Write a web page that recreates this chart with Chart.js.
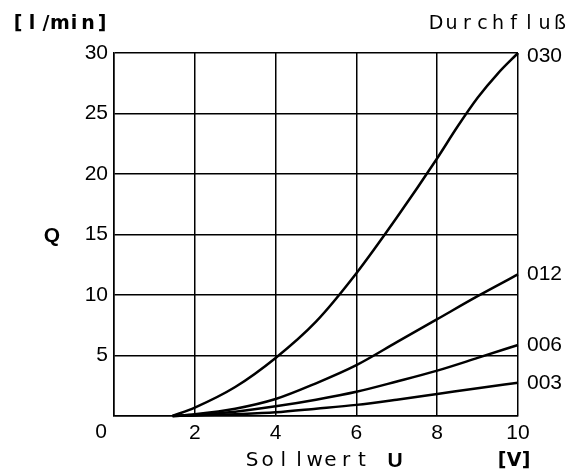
<!DOCTYPE html>
<html>
<head>
<meta charset="utf-8">
<script src="https://cdn.jsdelivr.net/npm/chart.js@4"></script>
<style>
  body { margin: 0; background: #fff; }
  #chart { display: block; }
</style>
</head>
<body>
<canvas id="chart" width="581" height="472"></canvas>
<script>
// Sollwert U [V] -> Durchfluss Q [l/min]
var seriesNames = ['030', '012', '006', '003'];
var u030 = [1.45, 2, 3, 4, 5, 6, 7, 8, 8.5, 9, 9.5, 10];
var q030 = [0, 0.7, 2.4, 4.8, 7.8, 11.8, 16.4, 21.3, 23.9, 26.3, 28.3, 30];
var uVals = [1.45, 2, 3, 4, 5, 6, 7, 8, 9, 10];
var q012 = [0, 0.15, 0.6, 1.4, 2.7, 4.2, 6.1, 8.0, 9.9, 11.7];
var q006 = [0, 0.08, 0.35, 0.8, 1.35, 2.0, 2.85, 3.75, 4.8, 5.87];
var q003 = [0, 0.05, 0.15, 0.3, 0.6, 0.92, 1.35, 1.82, 2.3, 2.75];
var xTicks = [0, 2, 4, 6, 8, 10];
var yTicks = [0, 5, 10, 15, 20, 25, 30];

function pts(u, q) {
  return u.map(function (v, i) { return { x: v, y: q[i] }; });
}

function line(label, u, q) {
  return {
    label: label,
    data: pts(u, q),
    showLine: true,
    borderColor: '#000',
    borderWidth: 2.5,
    pointRadius: 0,
    cubicInterpolationMode: 'monotone',
    clip: false
  };
}

function spaced(ctx, text, x, y, pitch) {
  for (var i = 0; i < text.length; i++) {
    ctx.fillText(text[i], x + i * pitch, y);
  }
}

var labelsPlugin = {
  id: 'labels',
  afterDraw: function (chart) {
    var ctx = chart.ctx;
    ctx.save();
    ctx.fillStyle = '#000';
    ctx.textBaseline = 'middle';

    // curve names at the end of each line
    ctx.font = '21px "Liberation Sans"';
    ctx.textAlign = 'left';
    chart.data.datasets.forEach(function (ds, i) {
      var meta = chart.getDatasetMeta(i);
      var last = meta.data[meta.data.length - 1];
      var dy = i === 0 ? 3 : 0;
      ctx.fillText(ds.label, last.x + 9, last.y + dy);
    });

    // shared origin
    ctx.textAlign = 'center';
    ctx.fillText('0', 101, 432);

    // Q
    ctx.font = 'bold 21px "Liberation Sans"';
    ctx.fillText('Q', 52, 236);

    // plotter style texts
    ctx.font = '600 19px "DejaVu Sans"';
    spaced(ctx, '[l/min]', 18, 24, 14);
    ctx.font = '19px "DejaVu Sans"';
    spaced(ctx, 'Durchfluß', 436, 24, 15.5);
    ctx.font = '20px "DejaVu Sans"';
    spaced(ctx, 'Sollwert', 252, 461, 15.7);
    ctx.font = 'bold 21px "Liberation Sans"';
    ctx.fillText('U', 395, 461);
    ctx.font = '600 19px "DejaVu Sans"';
    spaced(ctx, '[V]', 502, 461, 12);
    ctx.restore();
  }
};

new Chart(document.getElementById('chart'), {
  type: 'scatter',
  data: {
    datasets: [
      line(seriesNames[0], u030, q030),
      line(seriesNames[1], uVals, q012),
      line(seriesNames[2], uVals, q006),
      line(seriesNames[3], uVals, q003)
    ]
  },
  options: {
    responsive: false,
    animation: false,
    layout: { padding: { top: 53, right: 63, left: 0, bottom: 0 } },
    plugins: { legend: { display: false }, tooltip: { enabled: false } },
    scales: {
      x: {
        type: 'linear',
        min: 0,
        max: 10,
        afterBuildTicks: function (s) { s.ticks = xTicks.map(function (v) { return { value: v }; }); },
        afterFit: function (s) { s.height = 56; },
        grid: { color: '#000', lineWidth: 1.5, drawTicks: false },
        border: { color: '#000', width: 1.5 },
        ticks: {
          color: '#000',
          padding: 5,
          font: { family: 'Liberation Sans', size: 21 },
          callback: function (v) { return v === 0 ? '' : v; }
        }
      },
      y: {
        type: 'linear',
        min: 0,
        max: 30,
        afterBuildTicks: function (s) { s.ticks = yTicks.map(function (v) { return { value: v }; }); },
        afterFit: function (s) { s.width = 114; },
        grid: { color: '#000', lineWidth: 1.5, drawTicks: false },
        border: { color: '#000', width: 1.5 },
        ticks: {
          color: '#000',
          padding: 6,
          font: { family: 'Liberation Sans', size: 21 },
          callback: function (v) { return v === 0 ? '' : v; }
        }
      }
    }
  },
  plugins: [labelsPlugin]
});
</script>
</body>
</html>
